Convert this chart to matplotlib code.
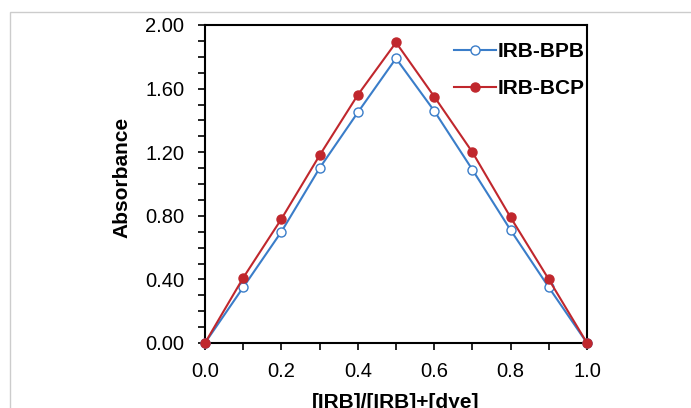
import matplotlib
matplotlib.use("Agg")
import matplotlib.pyplot as plt
from matplotlib.ticker import MultipleLocator, FormatStrFormatter
from matplotlib.patches import Rectangle

plt.rcParams['font.family'] = ['Liberation Sans', 'DejaVu Sans']

x = [0.0, 0.1, 0.2, 0.3, 0.4, 0.5, 0.6, 0.7, 0.8, 0.9, 1.0]
bpb = [0.00, 0.35, 0.70, 1.10, 1.45, 1.79, 1.46, 1.09, 0.71, 0.35, 0.00]
bcp = [0.00, 0.41, 0.78, 1.18, 1.56, 1.89, 1.55, 1.20, 0.79, 0.40, 0.00]

blue = '#3A7DC9'
red = '#C0272D'

fig = plt.figure(figsize=(6.91, 4.08), dpi=100)
fig.patches.append(Rectangle((10/691, -0.1), 1.0, (408-12)/408 + 0.1, transform=fig.transFigure,
                             fill=False, edgecolor='#CCCCCC', linewidth=1.0))
ax = fig.add_axes([205/691, 65/408, 382/691, 318/408])

ax.plot(x, bpb, color=blue, lw=1.5, marker='o', ms=6.5, mfc='white', mec=blue, mew=1.0,
        label='IRB-BPB', clip_on=False, zorder=3)
ax.plot(x, bcp, color=red, lw=1.5, marker='o', ms=6.5, mfc=red, mec=red,
        label='IRB-BCP', clip_on=False, zorder=3)

ax.set_xlim(0, 1.0)
ax.set_ylim(0, 2.0)
ax.xaxis.set_major_locator(MultipleLocator(0.2))
ax.xaxis.set_minor_locator(MultipleLocator(0.1))
ax.yaxis.set_major_locator(MultipleLocator(0.4))
ax.yaxis.set_minor_locator(MultipleLocator(0.1))
ax.xaxis.set_major_formatter(FormatStrFormatter('%.1f'))
ax.yaxis.set_major_formatter(FormatStrFormatter('%.2f'))
ax.tick_params(axis='both', which='both', direction='out', labelsize=14.5, colors='black')
ax.tick_params(axis='x', which='major', length=5, width=1.2, pad=9)
ax.tick_params(axis='x', which='minor', length=5, width=1.2)
ax.tick_params(axis='y', which='major', length=5, width=1.2, pad=10)
ax.tick_params(axis='y', which='minor', length=5, width=1.2)
for s in ax.spines.values():
    s.set_linewidth(1.5)

ax.set_xlabel('[IRB]/[IRB]+[dye]', fontsize=15, fontweight='bold', labelpad=8)
ax.set_ylabel('Absorbance', fontsize=15, fontweight='bold')
ax.yaxis.set_label_coords(-0.193, 0.52)

ax.legend(loc='upper right', frameon=False, prop={'weight': 'bold', 'size': 15},
          handlelength=2.0, handletextpad=0.1, labelspacing=0.85, bbox_to_anchor=(1.043, 1.004))

fig.savefig('out.png', dpi=100)
